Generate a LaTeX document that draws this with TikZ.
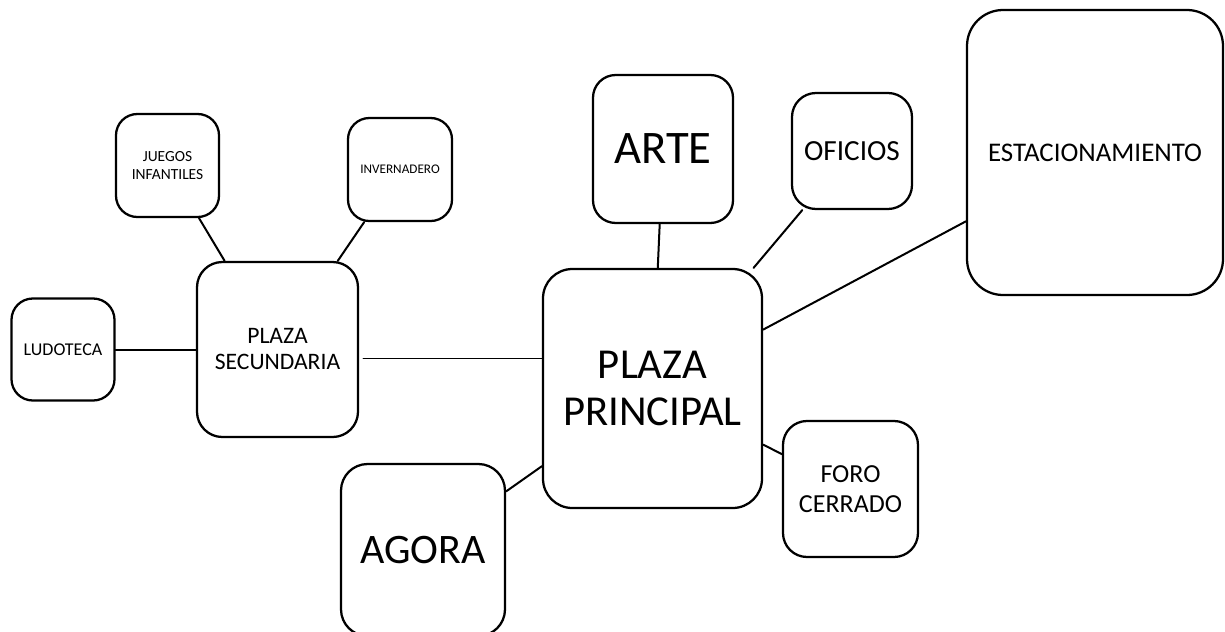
\documentclass[tikz,border=0pt]{standalone}
\usepackage{fontspec}
\setmainfont{Carlito}
\usetikzlibrary{calc}
\tikzset{
	zona/.style={draw,line width=1.7pt,inner sep=0pt,align=center},
	enlace/.style={line width=1.5pt}
}
\begin{document}
\begin{tikzpicture}[x=0.75pt,y=-0.75pt,line join=round,line cap=round]
		\useasboundingbox (0,0) rectangle (1225,632);
		\node[zona,minimum width=164.25pt,minimum height=179.25pt,rounded corners=22pt,font=\fontsize{32}{35.5}\selectfont] (principal) at (652.5,388.5) {PLAZA\\PRINCIPAL};
		\node[zona,minimum width=120.75pt,minimum height=131.25pt,rounded corners=19pt,font=\fontsize{17.7}{19.5}\selectfont] (secundaria) at (277.5,349.5) {PLAZA\\SECUNDARIA};
		\node[zona,minimum width=77.25pt,minimum height=77.25pt,rounded corners=16pt,font=\fontsize{11.6}{13}\selectfont] (juegos) at (167.5,165.5) {JUEGOS\\INFANTILES};
		\node[zona,minimum width=78pt,minimum height=77.25pt,rounded corners=16pt,font=\fontsize{9.9}{12}\selectfont] (invernadero) at (400,169.5) {INVERNADERO};
		\node[zona,minimum width=77.25pt,minimum height=76.5pt,rounded corners=16pt,font=\fontsize{13.5}{16}\selectfont] (ludoteca) at (63,349.5) {LUDOTECA};
		\node[zona,minimum width=105pt,minimum height=111pt,rounded corners=17pt,font=\fontsize{35}{40}\selectfont] (arte) at (663,149) {ARTE};
		\node[zona,minimum width=90pt,minimum height=87pt,rounded corners=18pt,font=\fontsize{21.9}{25}\selectfont] (oficios) at (852,151) {OFICIOS};
		\node[zona,minimum width=192pt,minimum height=213.75pt,rounded corners=27pt,font=\fontsize{20.2}{23}\selectfont] (estacionamiento) at (1095,152.5) {ESTACIONAMIENTO};
		\node[zona,minimum width=101.25pt,minimum height=102pt,rounded corners=18pt,font=\fontsize{19.5}{22}\selectfont] (foro) at (850.5,489) {FORO\\CERRADO};
		\node[zona,minimum width=123pt,minimum height=129pt,rounded corners=20pt,font=\fontsize{31.5}{35}\selectfont] (agora) at (423,550) {AGORA};
		\draw[enlace] (juegos)--(secundaria);
		\draw[enlace] (invernadero)--(secundaria);
		\draw[enlace] (ludoteca)--(secundaria);
		\draw[line width=0.75pt] ($(secundaria.east)+(4,8.5)$)--($(secundaria.east -| principal.west)+(0,8.5)$);
		\draw[enlace] (arte)--(principal);
		\draw[enlace] (oficios)--(principal);
		\draw[enlace] (estacionamiento)--(principal);
		\draw[enlace] (foro)--(principal);
		\draw[enlace] (agora)--(principal);
\end{tikzpicture}
\end{document}
